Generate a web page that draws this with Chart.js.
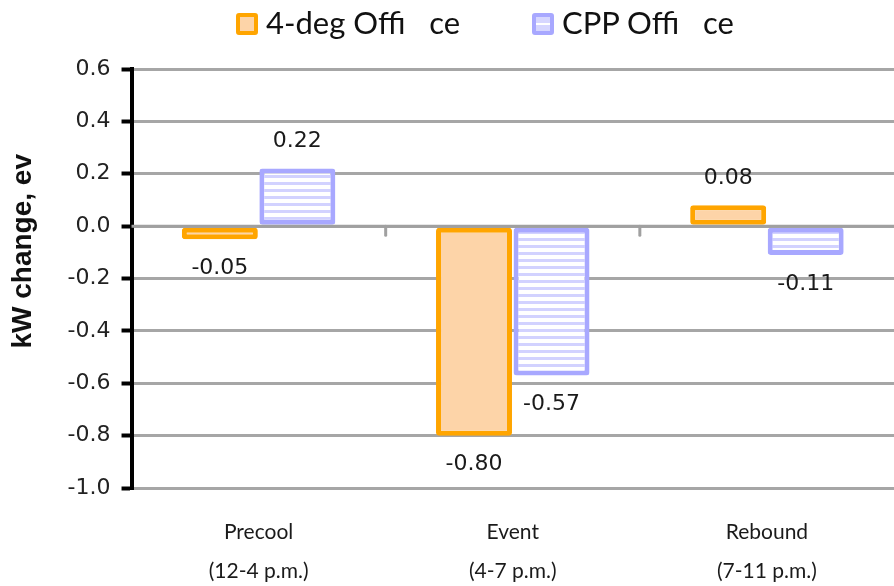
<!DOCTYPE html>
<html>
<head>
<meta charset="utf-8">
<script src="https://cdn.jsdelivr.net/npm/chart.js@4/dist/chart.umd.min.js"></script>
<style>
  html, body { margin: 0; padding: 0; background: #fff; }
  #wrap { position: relative; width: 894px; height: 586px; }
  #legend { position: absolute; top: 1px; left: 0; width: 894px; height: 42px;
            font-family: Lato, sans-serif; font-size: 31px; color: #111; }
  #legend .item { position: absolute; top: 0; white-space: pre; line-height: 42px; }
  #legend .box { display: inline-block; width: 14px; height: 14px; border-radius: 3px;
                 vertical-align: -1px; margin-right: 8px; border: 4px solid; }
</style>
</head>
<body>
<div id="wrap">
  <div id="legend"></div>
  <canvas id="chart" width="894" height="586"></canvas>
</div>
<script>
// values
const categories = [['Precool', '(12-4 p.m.)'], ['Event', '(4-7 p.m.)'], ['Rebound', '(7-11 p.m.)']];
const fourDegOffice = [-0.05, -0.80, 0.08];
const cppOffice = [0.22, -0.57, -0.11];
const seriesNames = ['4-deg Offi   ce', 'CPP Offi   ce'];
const yTicks = [0.6, 0.4, 0.2, 0.0, -0.2, -0.4, -0.6, -0.8, -1.0];

const NUM_FONT = '"DejaVu Sans", sans-serif';
const TXT_FONT = 'Lato, sans-serif';

// horizontal stripe fill for the CPP bars
function stripes() {
  var c = document.createElement('canvas');
  c.width = 8; c.height = 7;
  var g = c.getContext('2d');
  g.fillStyle = '#ffffff';
  g.fillRect(0, 0, 8, 7);
  g.fillStyle = '#d2d2ff';
  g.fillRect(0, 0, 8, 3);
  return g.createPattern(c, 'repeat');
}

// legend as plain html above the canvas
(function () {
  var lg = document.getElementById('legend');
  var looks = [
    { left: 236, border: '#ffa500', fill: '#fdd4a8' },
    { left: 532, border: '#a8a8ff', fill: 'linear-gradient(#d6d6ff 0 40%, #fff 40% 60%, #d6d6ff 60%)' }
  ];
  seriesNames.forEach(function (name, i) {
    var it = document.createElement('span');
    it.className = 'item';
    it.style.left = looks[i].left + 'px';
    var b = document.createElement('span');
    b.className = 'box';
    b.style.borderColor = looks[i].border;
    b.style.background = looks[i].fill;
    it.appendChild(b);
    it.appendChild(document.createTextNode(name));
    lg.appendChild(it);
  });
})();

const valueLabels = {
  id: 'valueLabels',
  afterDatasetsDraw(chart) {
    var ctx = chart.ctx;
    var y = chart.scales.y, x = chart.scales.x;
    ctx.save();
    // zero line over the bars, with small ticks between categories
    var y0 = y.getPixelForValue(0);
    ctx.strokeStyle = '#a0a0a0';
    ctx.lineWidth = 3;
    ctx.beginPath();
    ctx.moveTo(chart.chartArea.left, y0);
    ctx.lineTo(chart.chartArea.right, y0);
    ctx.stroke();
    ctx.lineCap = 'round';
    for (var i = 1; i < categories.length; i++) {
      var xb = (x.getPixelForValue(i - 1) + x.getPixelForValue(i)) / 2;
      ctx.beginPath();
      ctx.moveTo(xb, y0);
      ctx.lineTo(xb, y0 + 9);
      ctx.stroke();
    }
    ctx.font = '22px ' + NUM_FONT;
    ctx.fillStyle = '#1a1a1a';
    ctx.textAlign = 'center';
    ctx.textBaseline = 'middle';
    chart.data.datasets.forEach(function (ds, di) {
      chart.getDatasetMeta(di).data.forEach(function (bar, j) {
        var v = ds.data[j];
        var ty = v >= 0 ? bar.y - 27 : bar.y + 29;
        ctx.fillText(v.toFixed(2), bar.x, ty);
      });
    });
    ctx.restore();
  }
};

new Chart(document.getElementById('chart'), {
  type: 'bar',
  data: {
    labels: categories,
    datasets: [
      {
        label: seriesNames[0],
        data: fourDegOffice,
        backgroundColor: '#fdd4a8',
        borderColor: '#ffa500',
        borderWidth: 5,
        borderRadius: 3,
        borderSkipped: false,
        barPercentage: 0.98,
        categoryPercentage: 0.61
      },
      {
        label: seriesNames[1],
        data: cppOffice,
        backgroundColor: stripes(),
        borderColor: '#a8a8ff',
        borderWidth: 5,
        borderRadius: 3,
        borderSkipped: false,
        barPercentage: 0.98,
        categoryPercentage: 0.61
      }
    ]
  },
  options: {
    responsive: false,
    animation: false,
    layout: { padding: { top: 69, right: 0, left: 6, bottom: 0 } },
    plugins: {
      tooltip: { enabled: false },
      legend: { display: false }
    },
    scales: {
      x: {
        grid: { display: false },
        border: { display: false },
        afterFit: function (scale) { scale.height = 98; },
        ticks: {
          font: { family: TXT_FONT, size: 21, lineHeight: 1.85 },
          color: '#1a1a1a',
          padding: 17
        }
      },
      y: {
        min: -1.0,
        max: 0.6,
        afterBuildTicks: function (axis) {
          axis.ticks = yTicks.map(function (v) { return { value: v }; });
        },
        title: {
          display: true,
          // leading spaces lift the title a little above the axis centre, as in the picture
          text: '       kW change, ev',
          font: { family: '"Liberation Sans", Arial, sans-serif', size: 28, weight: 'bold' },
          color: '#111',
          padding: { top: 0, bottom: 17 }
        },
        border: { display: true, color: '#000', width: 4 },
        grid: {
          color: '#a6a6a6',
          lineWidth: 3,
          tickColor: '#000',
          tickLength: 10,
          tickWidth: 4
        },
        ticks: {
          font: { family: NUM_FONT, size: 22 },
          color: '#222',
          padding: 11,
          callback: function (v) { return Number(v).toFixed(1); }
        }
      }
    }
  },
  plugins: [valueLabels]
});
</script>
</body>
</html>
